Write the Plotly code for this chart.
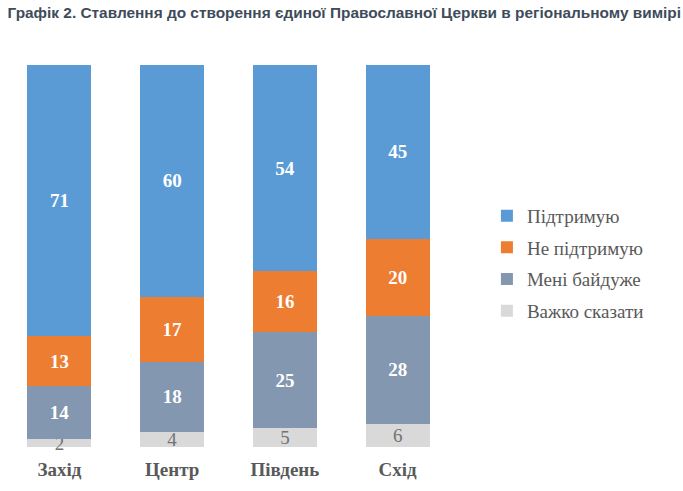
import plotly.graph_objects as go

categories = ["Захід", "Центр", "Південь", "Схід"]
series_names = ["Важко сказати", "Мені байдуже", "Не підтримую", "Підтримую"]
hard_to_say = [2, 4, 5, 6]
indifferent = [14, 18, 25, 28]
not_support = [13, 17, 16, 20]
support = [71, 60, 54, 45]

values = [hard_to_say, indifferent, not_support, support]
colors = ["#D9D9D9", "#8497B0", "#ED7D31", "#5B9BD5"]
text_colors = ["#737373", "white", "white", "white"]
text_bold = [False, True, True, True]
ranks = [4, 3, 2, 1]

fig = go.Figure()
for name, vals, col, tcol, bold, rk in zip(series_names, values, colors, text_colors, text_bold, ranks):
    fig.add_trace(go.Bar(
        x=categories, y=vals, name=name,
        marker=dict(color=col, line=dict(width=0)),
        text=[str(v) for v in vals],
        texttemplate="<b>%{text}</b>" if bold else "%{text}",
        textposition="inside",
        insidetextanchor="middle",
        constraintext="none",
        cliponaxis=False,
        textangle=0,
        textfont=dict(family="Liberation Serif", size=19, color=tcol),
        legendgroup=name,
        legendrank=rk,
        hoverinfo="skip",
    ))

fig.update_layout(
    barmode="stack",
    barnorm="percent",
    bargap=0.432,
    width=683, height=491,
    margin=dict(l=3, r=229, t=65, b=44),
    plot_bgcolor="white",
    paper_bgcolor="white",
    title=dict(
        text="<b>Графік 2. Ставлення до створення єдиної Православної Церкви в регіональному вимірі</b>",
        font=dict(family="Liberation Sans", size=15.4, color="#3E4B5B"),
        x=0.01, xref="paper", xanchor="left",
        y=0.985, yref="container", yanchor="top",
    ),
    xaxis=dict(
        showgrid=False, showline=False, zeroline=False,
        ticks="outside", ticklen=5, tickcolor="rgba(0,0,0,0)",
        tickfont=dict(family="Liberation Serif", size=19, color="#595959"),
        tickprefix="<b>", ticksuffix="</b>",
    ),
    yaxis=dict(range=[0, 100], visible=False, showgrid=False),
    legend=dict(
        x=1.073, xanchor="left", y=0.655, yanchor="top",
        traceorder="grouped",
        tracegroupgap=4,
        font=dict(family="Liberation Serif", size=19, color="#595959"),
        itemwidth=30,
    ),
    showlegend=True,
)

fig.write_html("out.html", config={"displayModeBar": False},
               post_script="document.body.style.margin='0';")
